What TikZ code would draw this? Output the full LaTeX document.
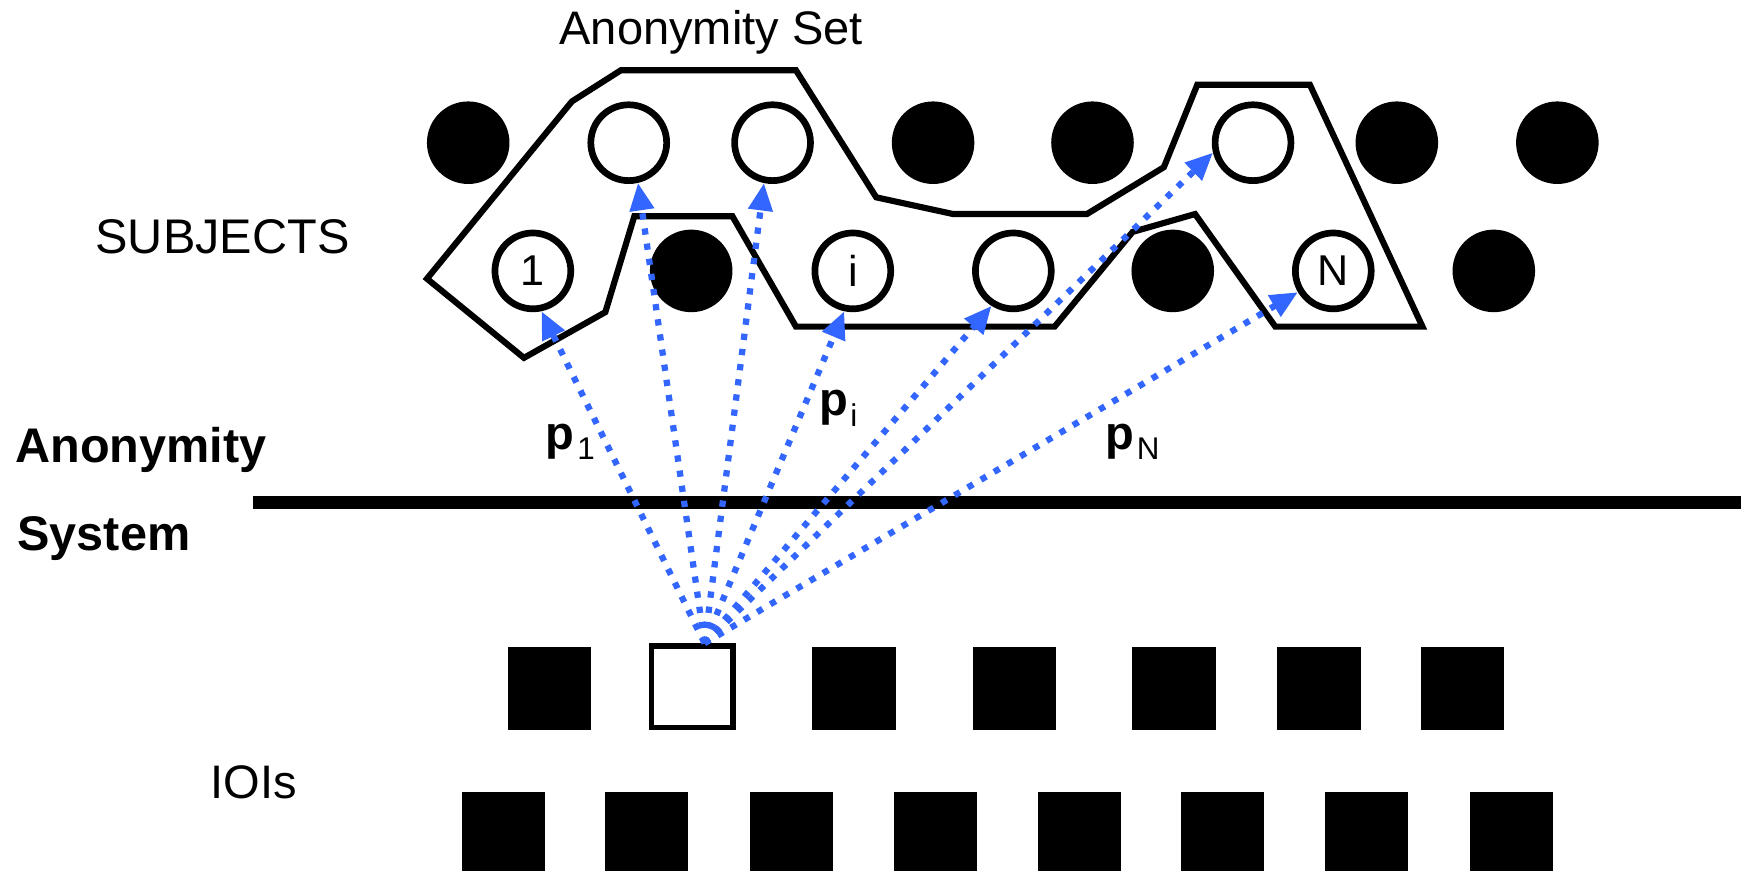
\documentclass[tikz,border=0pt]{standalone}
\usepackage{fontspec}
\setmainfont{Liberation Sans}
\usetikzlibrary{arrows.meta}
\definecolor{dotblue}{RGB}{51,102,255}
\begin{document}
\begin{tikzpicture}[x=0.01cm,y=-0.01cm,
  fillc/.style={circle,fill=black,draw=black,line width=0.6mm,minimum size=0.68cm,inner sep=0pt},
  openc/.style={circle,fill=white,draw=black,line width=0.6mm,minimum size=0.68cm,inner sep=0pt,font=\fontsize{11}{13}\selectfont},
  fills/.style={rectangle,fill=black,minimum size=0.75cm,inner sep=0pt},
  opens/.style={rectangle,draw=black,fill=white,line width=0.5mm,minimum size=0.73cm,inner sep=0pt},
  ioi/.style={rectangle,fill=black,minimum width=0.745cm,minimum height=0.71cm,inner sep=0pt,anchor=north west},
  lbl/.style={font=\fontsize{12}{14}\selectfont,inner sep=0pt},
  blbl/.style={font=\fontsize{12.4}{14}\selectfont\bfseries,inner sep=0pt},
  sub/.style={font=\fontsize{8}{9}\selectfont,inner sep=0pt,anchor=base west},
  arr/.style={dotblue,line width=1.6pt,dash pattern=on 1.6pt off 2.3pt,-{Triangle[length=7pt,width=6pt]}},
  hull/.style={draw=black,line width=0.55mm,line join=miter}]
\useasboundingbox (0,0) rectangle (1568,781);

% anonymity set hull
\draw[hull] (383,250) -- (513,91) -- (557,63) -- (714,63) -- (786,177) -- (855,192)
  -- (975,192) -- (1044,150) -- (1074,76) -- (1175,76) -- (1276,293) -- (1144,293)
  -- (1072,192) -- (1016,208) -- (946,293) -- (714,293) -- (657,194) -- (569,194)
  -- (543,280) -- (470,321) -- cycle;

% subjects, top row
\node[fillc] (t1) at (420,128) {};
\node[openc] (t2) at (564,128) {};
\node[openc] (t3) at (693,128) {};
\node[fillc] (t4) at (837,128) {};
\node[fillc] (t5) at (980,128) {};
\node[openc] (t6) at (1124,128) {};
\node[fillc] (t7) at (1253,128) {};
\node[fillc] (t8) at (1397,128) {};
% subjects, bottom row
\node[openc] (b1) at (478,243) {1};
\node[fillc] (b2) at (620,243) {};
\node[openc] (b3) at (765,243) {i};
\node[openc] (b4) at (909,243) {};
\node[fillc] (b5) at (1052,243) {};
\node[openc] (b6) at (1196,243) {N};
\node[fillc] (b7) at (1340,243) {};

% texts
\node[lbl,anchor=base] (title) at (638,40) {Anonymity Set};
\node[lbl,font=\fontsize{12.4}{14}\selectfont,anchor=base west] (subj) at (85,227) {SUBJECTS};
\node[blbl,anchor=base west] (anon) at (13,415) {Anonymity};
\node[blbl,anchor=base west] (sys) at (15,494) {System};
\node[lbl,anchor=base west] (iois) at (188,716) {IOIs};

% system boundary
\draw[line width=1.2mm] (227,451) -- (1562,451);

% IOIs, middle row
\node[fills] (m1) at (493,617.5) {};
\node[opens] (m2) at (621,616) {};
\node[fills] (m3) at (766,617.5) {};
\node[fills] (m4) at (910,617.5) {};
\node[fills] (m5) at (1053,617.5) {};
\node[fills] (m6) at (1183,617.5) {};
\node[fills] (m7) at (1312,617.5) {};
% IOIs, bottom row
\node[ioi] (r1) at (413.5,710) {};
\node[ioi] (r2) at (542,710) {};
\node[ioi] (r3) at (672,710) {};
\node[ioi] (r4) at (801,710) {};
\node[ioi] (r5) at (930,710) {};
\node[ioi] (r6) at (1059,710) {};
\node[ioi] (r7) at (1188,710) {};
\node[ioi] (r8) at (1318,710) {};

% probability labels
\node[lbl,anchor=base west] (p1) at (489,403) {\bfseries p};
\node[sub] (p1s) at ([xshift=0.01cm,yshift=-0.096cm]p1.base east) {1};
\node[lbl,anchor=base west] (pi) at (734,373) {\bfseries p};
\node[sub] (pis) at ([xshift=0.01cm,yshift=-0.096cm]pi.base east) {i};
\node[lbl,anchor=base west] (pN) at (991,403) {\bfseries p};
\node[sub] (pNs) at ([xshift=0.01cm,yshift=-0.096cm]pN.base east) {N};

% links
\coordinate (src) at ([xshift=0.11cm]m2.north);
\draw[arr] (src) -- (b1.-78);
\draw[arr] (src) -- (t2.-77);
\draw[arr] (src) -- (t3.-102);
\draw[arr] (src) -- (b3.-102);
\draw[arr] (src) -- (b4.-122);
\draw[arr] (src) -- (t6.194);
\draw[arr] (src) -- (b6.-149);
\end{tikzpicture}
\end{document}
